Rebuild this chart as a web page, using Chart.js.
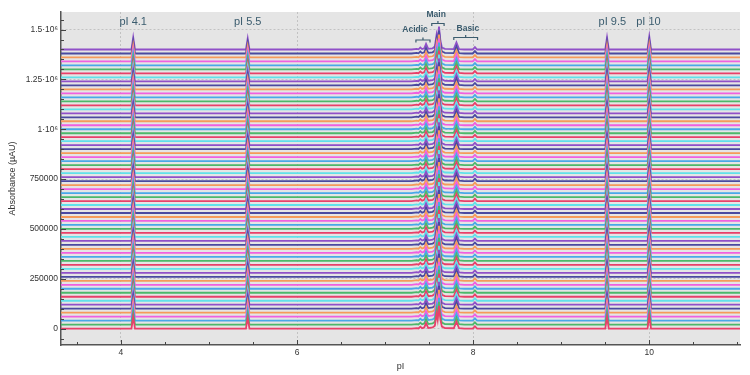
<!DOCTYPE html>
<html>
<head>
<meta charset="utf-8">
<script src="https://cdn.jsdelivr.net/npm/chart.js@4.4.0/dist/chart.umd.min.js"></script>
<style>
  html, body { margin: 0; padding: 0; background: #fff; }
  #wrap { width: 750px; height: 375px; }
</style>
</head>
<body>
<div id="wrap"><canvas id="chart"></canvas></div>
<script>
// perfil de un electroferograma: pI y altura sobre la linea base (uAU)
var profilePI = [3.30, 4.12, 4.14, 4.16, 5.42, 5.44, 5.46,
  7.30, 7.36, 7.38, 7.40, 7.42, 7.445, 7.465, 7.49, 7.54, 7.565, 7.585, 7.597, 7.612, 7.628, 7.645, 7.68,
  7.78, 7.81, 7.84, 7.90, 7.995, 8.02, 8.045,
  9.50, 9.52, 9.54, 9.98, 10.00, 10.02, 11.10];
var profileHeight = [0, 0, 60000, 0, 0, 55000, 0,
  0, 3000, 1000, 10000, 2000, 6000, 28000, 3000, 6000, 15000, 75000, 45000, 115000, 45000, 10000, 3000,
  2000, 35000, 2000, 0, 0, 12000, 0,
  0, 60000, 0, 0, 65000, 0, 0];

// numero de corridas apiladas y desplazamiento entre ellas
var traceCount = 71;
var traceStep = 20000;
var traceColours = ['#e8406a', '#4cb86a', '#4aa8e8', '#f060e0', '#f59a5a', '#4a4aa0', '#9050c8', '#60e0ea'];

// etiquetas de los ejes
var xTickValues = [4, 6, 8, 10];
var yTickValues = [0, 250000, 500000, 750000, 1000000, 1250000, 1500000];
var yTickLabels = ['0', '250000', '500000', '750000', '1·10⁶', '1.25·10⁶', '1.5·10⁶'];

// anotaciones
var markerLabels = ['pI 4.1', 'pI 5.5', 'pI 9.5', 'pI 10'];
var markerLabelPI = [4.14, 5.44, 9.58, 9.99];
var regionLabels = ['Acidic', 'Main', 'Basic'];
var regionLabelPI = [7.34, 7.58, 7.94];
var regionFrom = [7.35, 7.53, 7.78];
var regionTo = [7.51, 7.67, 8.05];

var annotColor = '#3b5c6e';

function construirTrazas() {
  var datasets = [];
  for (var i = 0; i < traceCount; i++) {
    var base = i * traceStep;
    var puntos = profilePI.map(function(pi, k) {
      return { x: pi, y: base + profileHeight[k] };
    });
    datasets.push({
      data: puntos,
      borderColor: traceColours[i % traceColours.length],
      borderWidth: 1.8,
      pointRadius: 0,
      tension: 0,
      fill: false
    });
  }
  return datasets;
}

// fondo gris del area de trazado
var fondoPlugin = {
  id: 'fondo',
  beforeDraw: function(chart) {
    var a = chart.chartArea;
    var ctx = chart.ctx;
    ctx.save();
    ctx.fillStyle = '#e5e5e5';
    ctx.fillRect(a.left, a.top, a.right - a.left, a.bottom - a.top);
    ctx.restore();
  }
};

// marcas de los ejes hacia dentro, mas anotaciones
var marcasPlugin = {
  id: 'marcas',
  afterDatasetsDraw: function(chart) {
    var ctx = chart.ctx;
    var a = chart.chartArea;
    var xs = chart.scales.x;
    var ys = chart.scales.y;
    ctx.save();
    ctx.strokeStyle = '#444';
    ctx.lineWidth = 1;
    xs.ticks.forEach(function(t) {
      var px = Math.round(xs.getPixelForValue(t.value)) + 0.5;
      var len = xTickValues.indexOf(t.value) >= 0 ? 5 : 3;
      ctx.beginPath();
      ctx.moveTo(px, a.bottom);
      ctx.lineTo(px, a.bottom - len);
      ctx.stroke();
    });
    ys.ticks.forEach(function(t) {
      var py = Math.round(ys.getPixelForValue(t.value)) + 0.5;
      var len = yTickValues.indexOf(t.value) >= 0 ? 5 : 3;
      ctx.beginPath();
      ctx.moveTo(a.left, py);
      ctx.lineTo(a.left + len, py);
      ctx.stroke();
    });

    ctx.fillStyle = annotColor;
    ctx.textAlign = 'center';
    ctx.textBaseline = 'middle';
    ctx.font = '11px "Liberation Sans", Arial, sans-serif';
    markerLabels.forEach(function(txt, i) {
      ctx.fillText(txt, xs.getPixelForValue(markerLabelPI[i]), 22);
    });

    var textY = [30, 14.5, 29];
    var braceY = [40, 23.5, 37.5];
    ctx.font = 'bold 8.5px "Liberation Sans", Arial, sans-serif';
    ctx.strokeStyle = annotColor;
    ctx.lineWidth = 1.2;
    regionLabels.forEach(function(txt, i) {
      ctx.fillText(txt, xs.getPixelForValue(regionLabelPI[i]), textY[i]);
      var x1 = xs.getPixelForValue(regionFrom[i]);
      var x2 = xs.getPixelForValue(regionTo[i]);
      var xm = (x1 + x2) / 2;
      var y = braceY[i];
      ctx.beginPath();
      ctx.moveTo(x1, y + 2.5);
      ctx.lineTo(x1, y);
      ctx.lineTo(x2, y);
      ctx.lineTo(x2, y + 2.5);
      ctx.moveTo(xm, y);
      ctx.lineTo(xm, y - 2.5);
      ctx.stroke();
    });
    ctx.restore();
  }
};

var chart = new Chart(document.getElementById('chart').getContext('2d'), {
  type: 'line',
  data: { datasets: construirTrazas() },
  options: {
    responsive: true,
    maintainAspectRatio: false,
    animation: false,
    parsing: false,
    normalized: true,
    layout: { padding: { top: 12, right: 10, left: 0, bottom: 0 } },
    plugins: {
      legend: { display: false },
      tooltip: { enabled: false }
    },
    scales: {
      x: {
        type: 'linear',
        min: 3.32,
        max: 11.03,
        afterBuildTicks: function(scale) {
          var t = [];
          for (var v = 3.5; v <= 11; v += 0.5) t.push({ value: v });
          scale.ticks = t;
        },
        afterFit: function(scale) { scale.height = 30; },
        ticks: {
          autoSkip: false,
          maxRotation: 0,
          padding: 3,
          color: '#333',
          font: { family: '"Liberation Sans", Arial, sans-serif', size: 8.5 },
          callback: function(value) {
            return xTickValues.indexOf(value) >= 0 ? String(value) : '';
          }
        },
        grid: {
          drawTicks: false,
          lineWidth: 1,
          color: function(ctx) {
            return ctx.tick && xTickValues.indexOf(ctx.tick.value) >= 0 ? '#c2c2c2' : 'rgba(0,0,0,0)';
          }
        },
        border: { display: true, color: '#555', width: 1.5, dash: [2, 2] },
        title: {
          display: true,
          text: 'pI',
          color: '#333',
          font: { family: '"Liberation Sans", Arial, sans-serif', size: 9 },
          padding: { top: 0, bottom: 3 }
        }
      },
      y: {
        type: 'linear',
        min: -82000,
        max: 1588000,
        afterBuildTicks: function(scale) {
          var t = [];
          for (var v = -50000; v <= 1550000; v += 50000) t.push({ value: v });
          scale.ticks = t;
        },
        afterFit: function(scale) { scale.width = 61; },
        ticks: {
          autoSkip: false,
          padding: 3,
          color: '#333',
          font: { family: '"Liberation Sans", Arial, sans-serif', size: 8.5 },
          callback: function(value) {
            var k = yTickValues.indexOf(value);
            return k >= 0 ? yTickLabels[k] : '';
          }
        },
        grid: {
          drawTicks: false,
          lineWidth: 1,
          color: function(ctx) {
            return ctx.tick && yTickValues.indexOf(ctx.tick.value) >= 0 ? '#c2c2c2' : 'rgba(0,0,0,0)';
          }
        },
        border: { display: true, color: '#555', width: 1.5, dash: [2, 2] },
        title: {
          display: true,
          text: 'Absorbance (µAU)',
          color: '#333',
          font: { family: '"Liberation Sans", Arial, sans-serif', size: 9 },
          padding: { top: 7, bottom: 4 }
        }
      }
    }
  },
  plugins: [fondoPlugin, marcasPlugin]
});
</script>
</body>
</html>
